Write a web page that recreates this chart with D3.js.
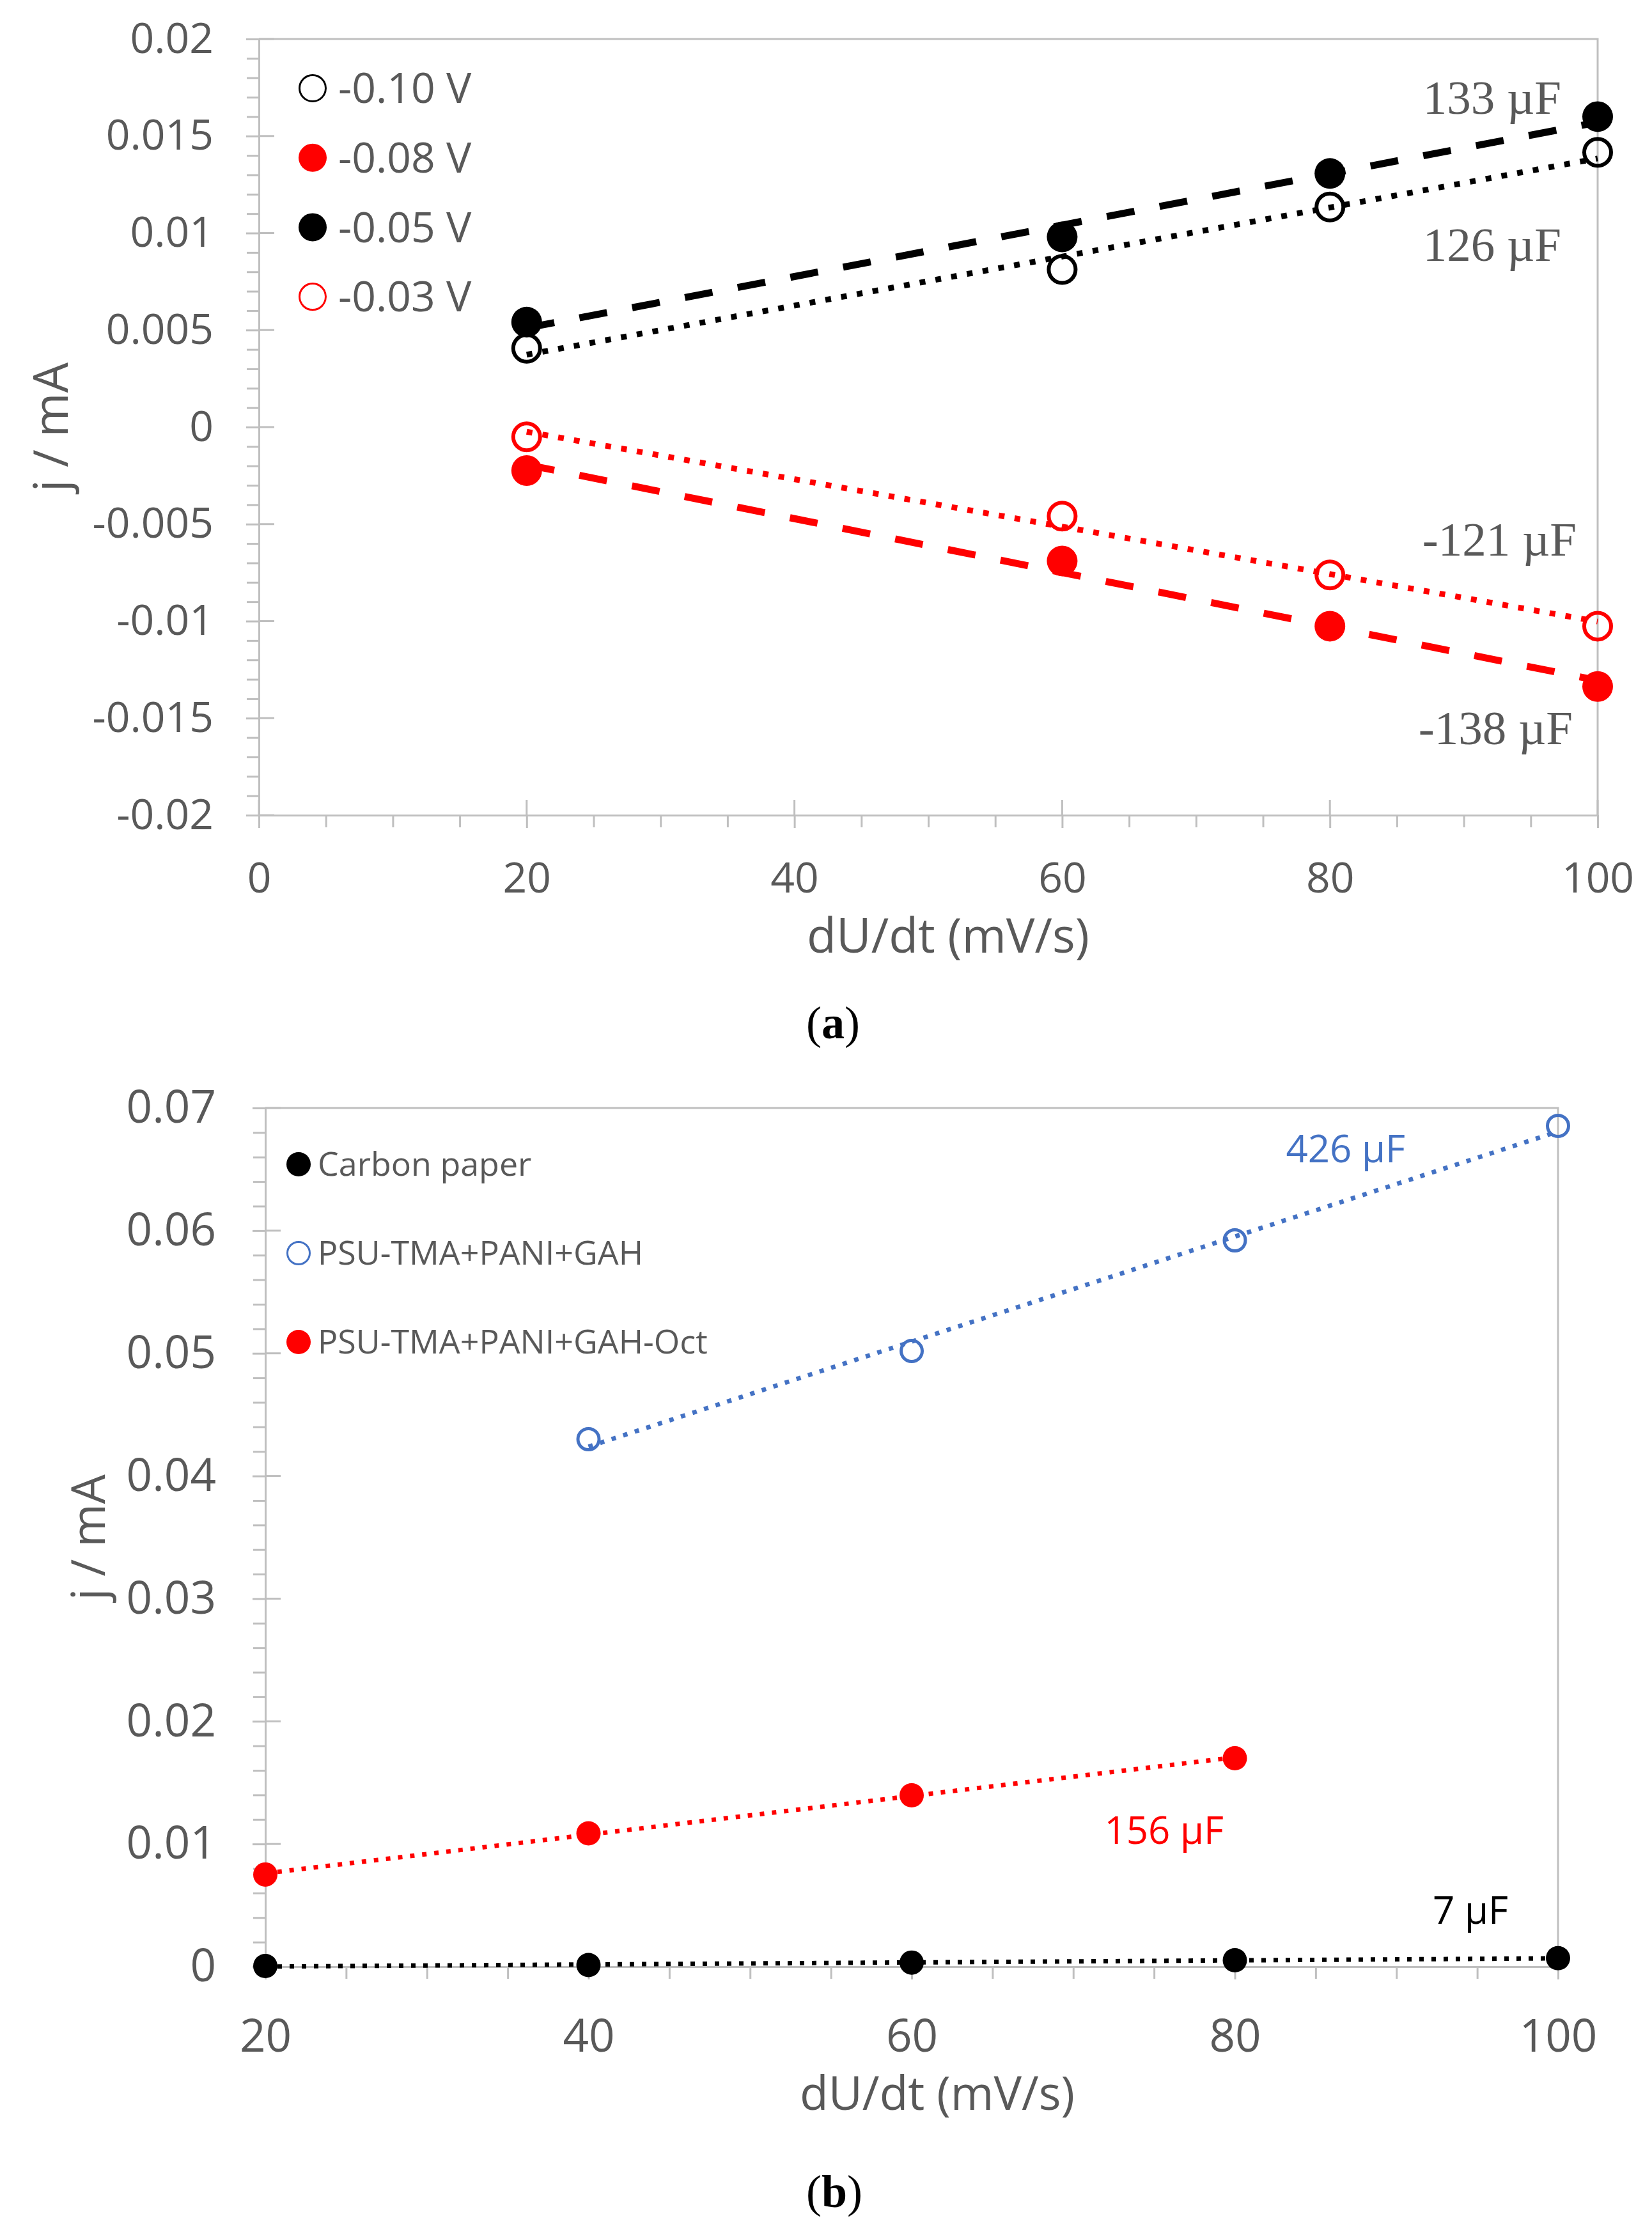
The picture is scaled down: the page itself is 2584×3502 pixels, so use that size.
<!DOCTYPE html>
<html>
<head>
<meta charset="utf-8">
<script src="https://cdn.jsdelivr.net/npm/d3@7"></script>
<style>
  body { margin: 0; background: #fff; }
  svg text { font-family: "Open Sans", sans-serif; }
</style>
</head>
<body>
<svg id="fig" width="2584" height="3502"></svg>
<script>
// ---- data, panel (a) ----
const speedA = [20, 60, 80, 100];
const jA_m010 = [0.00406, 0.00812, 0.01134, 0.01416];
const jA_m008 = [-0.00224, -0.0069, -0.01026, -0.01337];
const jA_m005 = [0.00541, 0.0098, 0.01307, 0.0160];
const jA_m003 = [-0.0005, -0.00459, -0.00762, -0.01026];
const legendA = ["-0.10 V", "-0.08 V", "-0.05 V", "-0.03 V"];
const capA = ["133 µF", "126 µF", "-121 µF", "-138 µF"];
const yTicksA = [0.02, 0.015, 0.01, 0.005, 0, -0.005, -0.01, -0.015, -0.02];
const xTicksA = [0, 20, 40, 60, 80, 100];

// ---- data, panel (b) ----
const speedB_carbon = [20, 40, 60, 80, 100];
const jB_carbon = [0.00005, 0.00013, 0.00033, 0.00052, 0.00069];
const speedB_gah = [40, 60, 80, 100];
const jB_gah = [0.0430, 0.05019, 0.05921, 0.06854];
const speedB_oct = [20, 40, 60, 80];
const jB_oct = [0.00751, 0.01087, 0.01397, 0.01699];
const legendB = ["Carbon paper", "PSU-TMA+PANI+GAH", "PSU-TMA+PANI+GAH-Oct"];
const capB = ["7 µF", "426 µF", "156 µF"];
const yTicksB = [0, 0.01, 0.02, 0.03, 0.04, 0.05, 0.06, 0.07];
const xTicksB = [20, 40, 60, 80, 100];

const GREY = "#595959", AXIS = "#bfbfbf", RED = "#ff0000", BLUE = "#4472c4";

const svg = d3.select("#fig");
svg.append("rect").attr("width", 2584).attr("height", 3502).attr("fill", "#fff");

let fmt = v => String(+v.toFixed(3));

// least squares line through the points (Excel linear trendline)
function fit(xs, ys) {
    let mx = d3.mean(xs), my = d3.mean(ys);
    let sxy = d3.sum(xs, (x, i) => (x - mx) * (ys[i] - my));
    let sxx = d3.sum(xs, x => (x - mx) * (x - mx));
    let b = sxy / sxx;
    return x => my + b * (x - mx);
}

function range(a, b, step) {
    let out = [];
    for (let v = a; v <= b + step / 2; v += step) out.push(+v.toFixed(6));
    return out;
}

function drawPanel(p) {
    let g = svg.append("g");
    let x = d3.scaleLinear().domain(p.xDom).range([p.left, p.right]);
    let y = d3.scaleLinear().domain(p.yDom).range([p.bottom, p.top]);

    // plot frame (top + right)
    g.append("path")
        .attr("d", `M${p.left},${p.top}H${p.right}V${p.bottom}`)
        .attr("fill", "none").attr("stroke", AXIS).attr("stroke-width", 3);

    // minor ticks
    let minY = range(p.yDom[0], p.yDom[1], p.yMinor).filter(v => !p.yTicks.some(t => Math.abs(t - v) < 1e-9));
    let minX = range(p.xDom[0], p.xDom[1], p.xMinor).filter(v => !p.xTicks.includes(v));
    g.append("g").attr("transform", `translate(${p.left},0)`)
        .call(d3.axisLeft(y).tickValues(minY).tickSize(19).tickSizeOuter(0).tickFormat(""))
        .call(a => a.select(".domain").remove());
    g.append("g").attr("transform", `translate(0,${p.bottom})`)
        .call(d3.axisBottom(x).tickValues(minX).tickSize(19).tickSizeOuter(0).tickFormat(""))
        .call(a => a.select(".domain").remove());

    // major ticks and labels
    let ya = g.append("g").attr("transform", `translate(${p.left},0)`)
        .call(d3.axisLeft(y).tickValues(p.yTicks).tickSize(20).tickSizeOuter(0)
            .tickPadding(p.yPad).tickFormat(fmt));
    let xa = g.append("g").attr("transform", `translate(0,${p.bottom})`)
        .call(d3.axisBottom(x).tickValues(p.xTicks).tickSize(20).tickSizeOuter(0)
            .tickPadding(p.xPad).tickFormat(fmt));
    [ya, xa].forEach(a => {
        a.select(".domain").attr("stroke", AXIS).attr("stroke-width", 3);
        a.selectAll("text").attr("fill", GREY).style("font-size", p.tickFont + "px")
            .style("font-family", "'Open Sans', sans-serif");
    });
    g.selectAll(".tick line").attr("stroke", AXIS).attr("stroke-width", 3);
    // inner half of the major ticks
    if (p.crossY) g.selectAll(null).data(p.yTicks).join("line")
        .attr("x1", p.left).attr("x2", p.left + 24)
        .attr("y1", d => y(d)).attr("y2", d => y(d))
        .attr("stroke", AXIS).attr("stroke-width", 3);
    if (p.crossX) g.selectAll(null).data(p.xTicks).join("line")
        .attr("x1", d => x(d)).attr("x2", d => x(d))
        .attr("y1", p.bottom).attr("y2", p.bottom - 24)
        .attr("stroke", AXIS).attr("stroke-width", 3);

    // axis titles
    g.append("text").attr("transform", `translate(${p.yTitleX},${(p.top + p.bottom) / 2}) rotate(-90)`)
        .attr("text-anchor", "middle").attr("dy", "0.35em")
        .attr("fill", GREY).style("font-size", p.titleFont + "px").text("j / mA");
    g.append("text").attr("x", p.xTitleX).attr("y", p.xTitleY)
        .attr("text-anchor", "middle").attr("fill", GREY)
        .style("font-size", p.titleFont + "px").text("dU/dt (mV/s)");

    // series: markers, then trendlines on top
    p.series.forEach(s => {
        let pts = s.xs.map((v, i) => [v, s.ys[i]]);
        g.append("g").selectAll("circle").data(pts).join("circle")
            .attr("cx", d => x(d[0])).attr("cy", d => y(d[1]))
            .attr("r", s.filled ? p.r : p.r - p.sw / 2)
            .attr("fill", s.filled ? s.color : "none")
            .attr("stroke", s.filled ? "none" : s.color)
            .attr("stroke-width", p.sw);
    });
    p.series.forEach(s => {
        let f = fit(s.xs, s.ys);
        let ends = d3.extent(s.xs);
        g.append("path")
            .datum(ends.map(v => [v, f(v)]))
            .attr("d", d3.line().x(d => x(d[0])).y(d => y(d[1])))
            .attr("fill", "none").attr("stroke", s.color)
            .attr("stroke-width", s.dash === "dash" ? p.dashW : p.dotW)
            .attr("stroke-dasharray", s.dash === "dash" ? p.dashArr : p.dotArr);
    });

    // legend
    p.legend.forEach((name, i) => {
        let s = p.series[p.legendOrder[i]];
        let cy = p.legY + i * p.legStep;
        g.append("circle").attr("cx", p.legX).attr("cy", cy)
            .attr("r", s.filled ? p.legR : p.legR - 1.5)
            .attr("fill", s.filled ? s.color : "none")
            .attr("stroke", s.filled ? "none" : s.color).attr("stroke-width", 3);
        g.append("text").attr("x", p.legX + p.legGap).attr("y", cy).attr("dy", "0.35em")
            .attr("fill", GREY).style("font-size", p.legFont + "px").text(name);
    });

    // capacitance labels
    p.caps.forEach(c => {
        g.append("text").attr("x", c.x).attr("y", c.y).attr("text-anchor", "end")
            .attr("fill", c.color).style("font-size", p.capFont + "px")
            .style("font-family", p.capFamily).text(c.text);
    });

    // caption
    let cap = g.append("text").attr("x", p.captionX).attr("y", p.captionY)
        .attr("text-anchor", "middle").attr("fill", "#000")
        .style("font-size", "72px").style("font-family", "'Liberation Serif', serif");
    cap.append("tspan").text("(");
    cap.append("tspan").attr("font-weight", "bold").text(p.caption);
    cap.append("tspan").text(")");
}

drawPanel({
    xDom: [0, 100], yDom: [-0.02, 0.02],
    left: 405, right: 2499, top: 61, bottom: 1275,
    xTicks: xTicksA, yTicks: yTicksA, xMinor: 5, yMinor: 0.001,
    yPad: 51, xPad: 54, tickFont: 66, titleFont: 75, crossY: true, crossX: true,
    yTitleX: 80, xTitleX: 1483, xTitleY: 1490,
    r: 24, sw: 6, dashW: 11, dotW: 9, dashArr: "44,40", dotArr: "9,16",
    series: [
        { xs: speedA, ys: jA_m010, color: "#000", filled: false, dash: "dot" },
        { xs: speedA, ys: jA_m008, color: RED, filled: true, dash: "dash" },
        { xs: speedA, ys: jA_m005, color: "#000", filled: true, dash: "dash" },
        { xs: speedA, ys: jA_m003, color: RED, filled: false, dash: "dot" }
    ],
    legend: legendA, legendOrder: [0, 1, 2, 3],
    legX: 489, legY: 138, legStep: 108.7, legR: 22, legGap: 40, legFont: 66,
    caps: [
        { text: capA[0], x: 2442, y: 178, color: GREY },
        { text: capA[1], x: 2442, y: 408, color: GREY },
        { text: capA[2], x: 2466, y: 869, color: GREY },
        { text: capA[3], x: 2460, y: 1164, color: GREY }
    ],
    capFont: 75, capFamily: "'Liberation Serif', serif",
    caption: "a", captionX: 1303, captionY: 1624
});

drawPanel({
    xDom: [20, 100], yDom: [0, 0.07],
    left: 415, right: 2437, top: 1733, bottom: 3076,
    xTicks: xTicksB, yTicks: yTicksB, xMinor: 5, yMinor: 0.002,
    yPad: 57, xPad: 63, tickFont: 71, titleFont: 73, crossY: true, crossX: false,
    yTitleX: 138, xTitleX: 1466, xTitleY: 3300,
    r: 19, sw: 5, dashW: 7, dotW: 7, dashArr: "7,12", dotArr: "7,12",
    series: [
        { xs: speedB_carbon, ys: jB_carbon, color: "#000", filled: true, dash: "dot" },
        { xs: speedB_gah, ys: jB_gah, color: BLUE, filled: false, dash: "dot" },
        { xs: speedB_oct, ys: jB_oct, color: RED, filled: true, dash: "dot" }
    ],
    legend: legendB, legendOrder: [0, 1, 2],
    legX: 467, legY: 1821, legStep: 139, legR: 19, legGap: 30, legFont: 52,
    caps: [
        { text: capB[0], x: 2359, y: 3009, color: "#000" },
        { text: capB[1], x: 2198, y: 1818, color: BLUE },
        { text: capB[2], x: 1914, y: 2884, color: RED }
    ],
    capFont: 60, capFamily: "'Open Sans', sans-serif",
    caption: "b", captionX: 1305, captionY: 3452
});
</script>
</body>
</html>
